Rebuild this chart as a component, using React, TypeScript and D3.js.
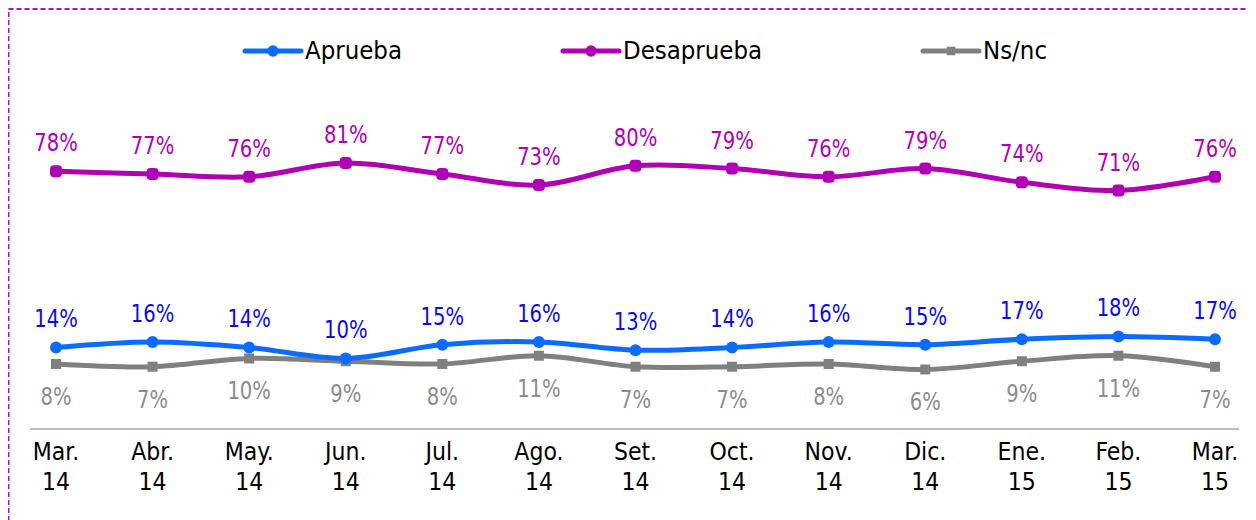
import React from "react";
import * as d3 from "d3";

const months = ["Mar.", "Abr.", "May.", "Jun.", "Jul.", "Ago.", "Set.", "Oct.", "Nov.", "Dic.", "Ene.", "Feb.", "Mar."];
const years = ["14", "14", "14", "14", "14", "14", "14", "14", "14", "14", "15", "15", "15"];
const categories = months.map((m, i) => `${m} ${years[i]}#${i}`);

const aprueba = [14, 16, 14, 10, 15, 16, 13, 14, 16, 15, 17, 18, 17];
const desaprueba = [78, 77, 76, 81, 77, 73, 80, 79, 76, 79, 74, 71, 76];
const nsnc = [8, 7, 10, 9, 8, 11, 7, 7, 8, 6, 9, 11, 7];

const seriesNames = ["Aprueba", "Desaprueba", "Ns/nc"];

const FONT = "'DejaVu Sans Condensed', 'DejaVu Sans', sans-serif";

export default function App() {
  const W = 1248;
  const H = 512;
  const x = d3.scalePoint<string>().domain(categories).range([56, 1215]);
  const y = d3.scaleLinear().domain([0, 100]).range([386, 386 - 275.3]);

  const series = [
    { name: seriesNames[0], values: aprueba, line: "#0A6CFF", label: "#0A0AEE", marker: "circle", labelDy: -20 },
    { name: seriesNames[1], values: desaprueba, line: "#B000B4", label: "#B000B4", marker: "rsquare", labelDy: -20 },
    { name: seriesNames[2], values: nsnc, line: "#808080", label: "#8C8C8C", marker: "square", labelDy: 41 },
  ];

  const line = d3
    .line<number>()
    .x((_, i) => x(categories[i]) as number)
    .y((d) => y(d))
    .curve(d3.curveCatmullRom.alpha(0.5));

  const legendStarts = [245, 563, 923];
  const drawOrder = [1, 2, 0];

  const marker = (type: string, cx: number, cy: number, color: string, key: string, s = 1) => {
    if (type === "circle") return <circle key={key} cx={cx} cy={cy} r={6 * s} fill={color} />;
    if (type === "rsquare")
      return <rect key={key} x={cx - 6 * s} y={cy - 6 * s} width={12 * s} height={12 * s} rx={4 * s} fill={color} />;
    return <rect key={key} x={cx - 5 * s} y={cy - 5 * s} width={10 * s} height={10 * s} fill={color} />;
  };

  return (
    <svg width={W} height={H} style={{ display: "block" }}>
      <g transform="translate(-8,-8)">
        <rect x={8.5} y={9} width={1400} height={700} fill="none" stroke="#B010B4" strokeWidth={2} strokeDasharray="5,3" />

        {/* legend */}
        {series.map((s, i) => {
          const lx = legendStarts[i];
          return (
            <g key={s.name}>
              <line x1={lx} x2={lx + 56} y1={51} y2={51} stroke={s.line} strokeWidth={5} strokeLinecap="round" />
              {marker(s.marker === "square" ? "square" : "circle", lx + 28, 51, s.line, "lm" + i, s.marker === "square" ? 0.85 : 0.95)}
              <text x={lx + 60} y={59} fontFamily={FONT} fontSize={25.5} fill="#000">
                {s.name}
              </text>
            </g>
          );
        })}

        {/* axis line */}
        <line x1={30} x2={1239} y1={429} y2={429} stroke="#BFBFBF" strokeWidth={2} />

        {/* category labels */}
        {categories.map((c, i) => (
          <text key={c} x={x(c)} textAnchor="middle" fontFamily={FONT} fontSize={24.5} fill="#000">
            <tspan x={x(c)} y={460}>{months[i]}</tspan>
            <tspan x={x(c)} y={490}>{years[i]}</tspan>
          </text>
        ))}

        {/* lines */}
        {drawOrder.map((k) => {
          const s = series[k];
          return (
            <g key={s.name}>
              <path d={line(s.values) || ""} fill="none" stroke={s.line} strokeWidth={5} strokeLinecap="round" />
              {s.values.map((v, i) => marker(s.marker, x(categories[i]) as number, y(v), s.line, s.name + i))}
            </g>
          );
        })}

        {/* data labels */}
        {series.map((s) =>
          s.values.map((v, i) => (
            <text
              key={s.name + "l" + i}
              transform={`translate(${x(categories[i])},${y(v) + s.labelDy}) scale(0.87,1)`}
              textAnchor="middle"
              fontFamily={FONT}
              fontSize={25}
              fill={s.label}
            >
              {v}%
            </text>
          ))
        )}
      </g>
    </svg>
  );
}
